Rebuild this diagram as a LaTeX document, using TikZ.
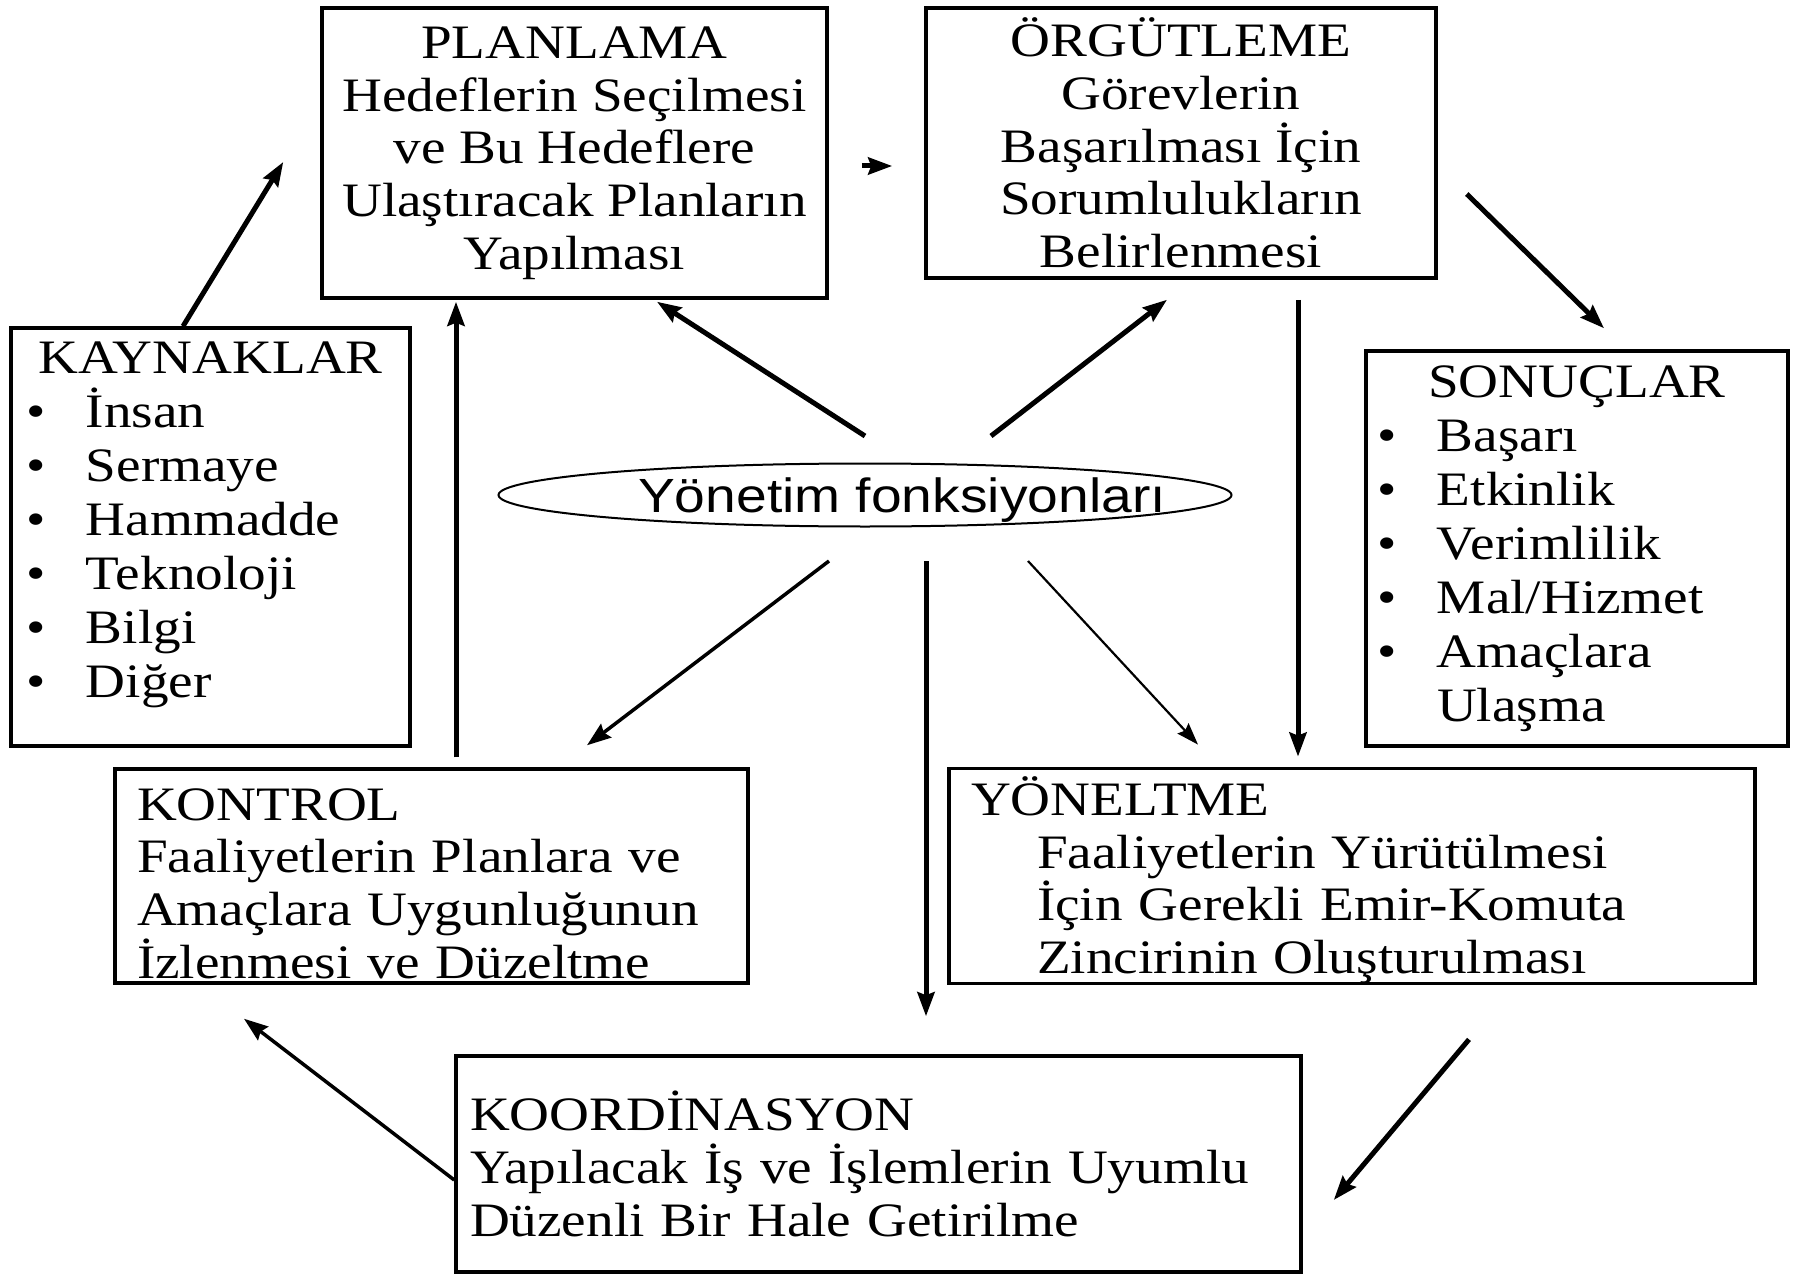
\documentclass[tikz,border=0pt]{standalone}
\usepackage{fontspec}
\setmainfont{Liberation Serif}[FakeStretch=1.15]
\newfontfamily\elipsfont{Liberation Sans}[FakeStretch=1.15]
\usetikzlibrary{positioning}
\usetikzlibrary{calc}
\usetikzlibrary{shapes.geometric}
\usetikzlibrary{arrows.meta}

\newcommand{\madde}[1]{\makebox[60pt][l]{\textbullet}#1}

\tikzset{
  kutu/.style={draw, line width=3.5pt, font=\fontsize{48}{52.7}\selectfont},
  ok/.style={line width=5pt, -{Stealth[length=24pt, width=17pt, inset=3pt]}},
  inceok/.style={line width=2.2pt, -{Stealth[length=22pt, width=15pt, inset=3pt]}},
}

\begin{document}
\begin{tikzpicture} [x=1pt, y=-1pt]

\useasboundingbox (0,0) rectangle (1797,1276);

\node [kutu, minimum width=505pt, minimum height=290pt, align=center] (plan) at (574.5,153)
    {PLANLAMA\\Hedeflerin Seçilmesi\\ve Bu Hedeflere\\Ulaştıracak Planların\\Yapılması};
\node [kutu, minimum width=510pt, minimum height=270pt, align=center] (org) at (1181,143)
    {ÖRGÜTLEME\\Görevlerin\\Başarılması İçin\\Sorumlulukların\\Belirlenmesi};

\node [kutu, minimum height=418pt, inner xsep=15pt, text width=369pt, align=left,
    font=\fontsize{48}{54}\selectfont] (kay) at (210.5,537)
    {\makebox[\linewidth]{KAYNAKLAR}\\\madde{İnsan}\\\madde{Sermaye}\\\madde{Hammadde}\\
     \madde{Teknoloji}\\\madde{Bilgi}\\\madde{Diğer}\rule[-34pt]{0pt}{1pt}};
\node [kutu, minimum height=395pt, inner xsep=11pt, text width=400pt, align=left,
    font=\fontsize{48}{54}\selectfont] (son) at (1577,548.5)
    {\makebox[\linewidth]{SONUÇLAR}\\\madde{Başarı}\\\madde{Etkinlik}\\\madde{Verimlilik}\\
     \madde{Mal/Hizmet}\\\madde{Amaçlara}\\\hspace*{60pt}Ulaşma};

\node [ellipse, draw, line width=2pt, minimum width=733pt, minimum height=63pt, inner sep=0pt] (yf) at (865,495) {};
\node [anchor=base, font=\elipsfont\fontsize{48}{52}\selectfont] (yft) at (902,512) {Yönetim fonksiyonları};

\node [kutu, minimum height=214pt, inner xsep=22pt, inner ysep=0pt, text width=589pt, align=left] (kon) at (431.5,876)
    {\rule{0pt}{47pt}KONTROL\\Faaliyetlerin Planlara ve\\Amaçlara Uygunluğunun\\İzlenmesi ve Düzeltme};
\node [kutu, minimum height=214pt, inner xsep=22pt, inner ysep=0pt, text width=762pt, align=left] (yon) at (1352,876)
    {\rule{0pt}{47pt}YÖNELTME\\\hspace*{66pt}Faaliyetlerin Yürütülmesi\\\hspace*{66pt}İçin Gerekli Emir-Komuta\\\hspace*{66pt}Zincirinin Oluşturulması};
\node [kutu, minimum height=216pt, inner xsep=14pt, text width=817pt, align=left] (koo) at (878.5,1164)
    {KOORDİNASYON\\Yapılacak İş ve İşlemlerin Uyumlu\\Düzenli Bir Hale Getirilme};

% oklar
\draw [ok] ($(kay.north)+(-27.5,0)$) -- ($(plan.west)+(-37,9)$);
\draw [ok] ($(plan.east)+(33,13)$) -- ($(org.west)+(-32,23)$);
\draw [ok] ($(org.east)+(29,51)$) -- ($(son.north)+(27,-21)$);
\draw [ok] ($(yf.north)+(0,-26.5)$) -- ($(plan.south)+(82.5,2)$);
\draw [ok] ($(yf.north)+(126,-26.5)$) -- ($(org.south)+(-14,20)$);
\draw [ok] ($(org.south)+(117,20)$) -- ($(yon.north)+(-54,-10)$);
\draw [ok] ($(kon.north)+(24.5,-10)$) -- ($(plan.south)+(-118.5,2)$);
\draw [ok, line width=3.5pt] ($(yf.south)+(-36,33.5)$) -- ($(kon.north)+(155.5,-22)$);
\draw [ok] ($(yf.south)+(61,33.5)$) -- ($(koo.north)+(47.5,-38)$);
\draw [inceok] ($(yf.south)+(163,33.5)$) -- ($(yon.north)+(-154,-22)$);
\draw [ok] ($(yon.south)+(117,54)$) -- ($(koo.east)+(31,36)$);
\draw [ok, line width=3.5pt] ($(koo.west)+(0,16)$) -- ($(kon.south)+(-187.5,34)$);

\end{tikzpicture}
\end{document}
